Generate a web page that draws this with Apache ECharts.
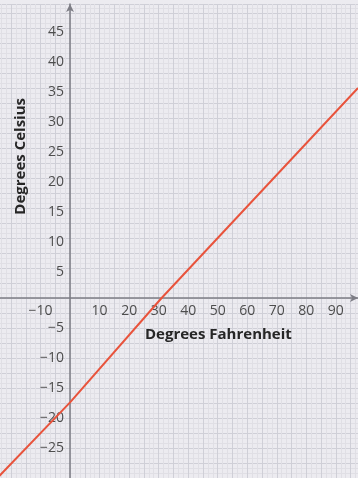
<!DOCTYPE html>
<html>
<head>
<meta charset="utf-8">
<script src="https://cdn.jsdelivr.net/npm/echarts@6/dist/echarts.min.js"></script>
<style>
  html, body { margin: 0; padding: 0; background: #ecebf0; }
  #chart { width: 358px; height: 478px; }
</style>
</head>
<body>
<div id="chart"></div>
<script>
// Fahrenheit -> Celsius line
const fahrenheit = [-25, 0, 31, 97.5]
const celsius = [-30.2, -17.4, 0, 35]

const xTickLabels = [-10, 10, 20, 30, 40, 50, 60, 70, 80, 90]
const yTickLabels = [-25, -20, -15, -10, -5, 5, 10, 15, 20, 25, 30, 35, 40, 45]

const chart = echarts.init(document.getElementById('chart'))

const labelFont = {
  fontFamily: 'Open Sans',
  fontSize: 14,
  color: '#4d4d4d'
}

const minus = v => (v < 0 ? '\u2212' + Math.abs(v) : String(v))

const option = {
  backgroundColor: '#ecebf0',
  animation: false,
  grid: { left: -3.75, right: 0, top: 4, bottom: 0, containLabel: false, outerBoundsMode: 'none' },
  xAxis: {
    type: 'value',
    min: -25,
    max: 97.5,
    interval: 5,
    position: 'bottom',
    offset: -180,
    axisLine: {
      onZero: false,
      symbol: ['none', 'arrow'],
      symbolSize: [6, 8],
      lineStyle: { color: '#7d7d85', width: 1.5 }
    },
    axisTick: { show: false },
    axisLabel: {
      ...labelFont,
      margin: 6,
      formatter: v => (xTickLabels.includes(v) ? minus(v) : '')
    },
    splitLine: { show: true, lineStyle: { color: '#cfcfd7', width: 1 } },
    minorTick: { show: false, splitNumber: 3 },
    minorSplitLine: { show: true, lineStyle: { color: '#e0dfe5', width: 1 } }
  },
  yAxis: {
    type: 'value',
    min: -30,
    max: 49,
    interval: 2.5,
    position: 'left',
    offset: -73.75,
    axisLine: {
      onZero: false,
      symbol: ['none', 'arrow'],
      symbolSize: [6, 8],
      lineStyle: { color: '#7d7d85', width: 1.5 }
    },
    axisTick: { show: false },
    axisLabel: {
      ...labelFont,
      margin: 6,
      formatter: v => {
        if (!yTickLabels.includes(v)) return ''
        return v > 0 ? '{p|' + v + '}' : minus(v)
      },
      rich: { p: { ...labelFont, padding: [8, 0, 0, 0] } }
    },
    splitLine: { show: true, lineStyle: { color: '#cfcfd7', width: 1 } },
    minorTick: { show: false, splitNumber: 3 },
    minorSplitLine: { show: true, lineStyle: { color: '#e0dfe5', width: 1 } }
  },
  series: [
    {
      type: 'line',
      data: fahrenheit.map((f, i) => [f, celsius[i]]),
      symbol: 'none',
      lineStyle: { color: '#e8533c', width: 2 },
      z: 5
    }
  ],
  graphic: [
    {
      type: 'text',
      z: 100,
      left: 13,
      top: 98,
      rotation: Math.PI / 2,
      style: {
        text: 'Degrees Celsius',
        fontFamily: 'Open Sans',
        fontWeight: 'bold',
        fontSize: 15,
        fill: '#262626'
      }
    },
    {
      type: 'text',
      z: 100,
      left: 145,
      top: 327,
      style: {
        text: 'Degrees Fahrenheit',
        fontFamily: 'Open Sans',
        fontWeight: 'bold',
        fontSize: 15,
        fill: '#262626'
      }
    }
  ]
}

chart.setOption(option)
</script>
</body>
</html>
